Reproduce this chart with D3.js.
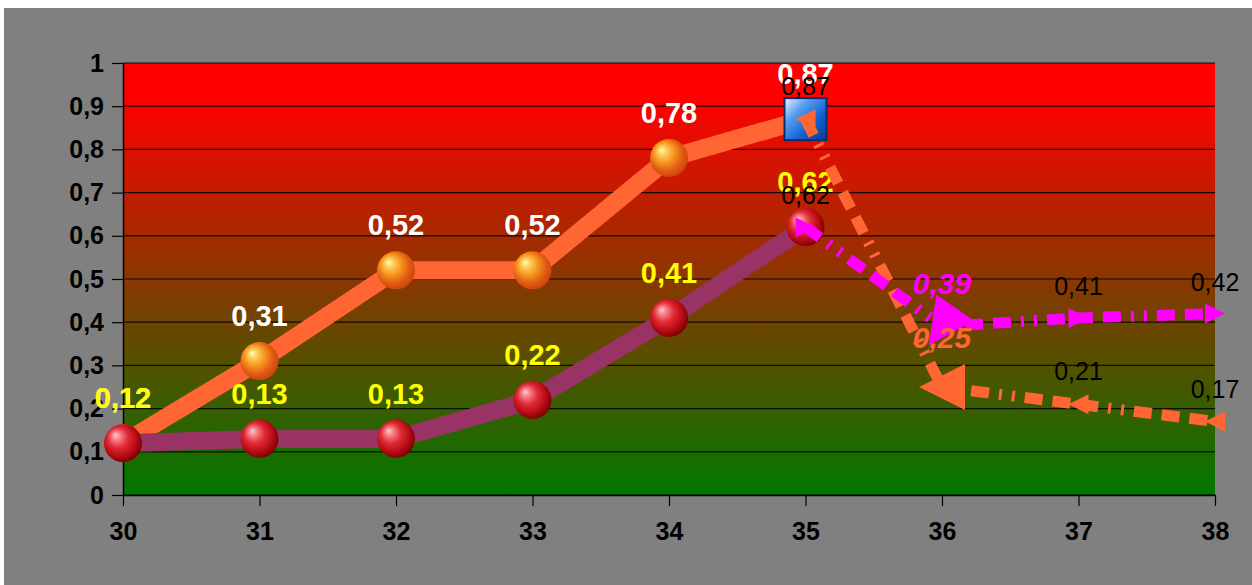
<!DOCTYPE html>
<html>
<head>
<meta charset="utf-8">
<script src="https://cdn.jsdelivr.net/npm/d3@7"></script>
<style>
  html, body { margin: 0; padding: 0; background: #ffffff; }
  svg { display: block; }
  text { font-family: "Liberation Sans", Arial, sans-serif; }
</style>
</head>
<body>
<svg id="chart" width="1252" height="585"></svg>
<script>
// Category axis and value axis ticks
const categories = [30, 31, 32, 33, 34, 35, 36, 37, 38];
const yTicks = [0, 0.1, 0.2, 0.3, 0.4, 0.5, 0.6, 0.7, 0.8, 0.9, 1];

// Measured series (weeks 30-35)
const measuredX = [30, 31, 32, 33, 34, 35];
const upperValues = [0.12, 0.31, 0.52, 0.52, 0.78, 0.87];
const lowerValues = [0.12, 0.13, 0.13, 0.22, 0.41, 0.62];

// Projected series (weeks 35-38)
const projectedX = [35, 36, 37, 38];
const upperProjection = [0.87, 0.25, 0.21, 0.17];
const lowerProjection = [0.62, 0.39, 0.41, 0.42];

const W = 1252, H = 585;
const plot = { left: 123, right: 1215, top: 63, bottom: 495 };

const svg = d3.select("#chart");
const defs = svg.append("defs");

const x = d3.scaleLinear().domain([30, 38]).range([plot.left, plot.right]);
const y = d3.scaleLinear().domain([0, 1]).range([plot.bottom, plot.top]);

const comma = v => d3.format("~g")(+v.toFixed(2)).replace(".", ",");
const comma2 = v => v.toFixed(2).replace(".", ",");

// Outer gray frame
svg.append("rect").attr("x", 4).attr("y", 8).attr("width", W - 4).attr("height", H - 8)
  .attr("fill", "#808080");

// Plot area gradient: red at the top fading to green at the bottom
const bg = defs.append("linearGradient").attr("id", "plotBg")
  .attr("x1", 0).attr("y1", 0).attr("x2", 0).attr("y2", 1);
bg.append("stop").attr("offset", "0%").attr("stop-color", "#ff0000");
bg.append("stop").attr("offset", "8%").attr("stop-color", "#ff0000");
bg.append("stop").attr("offset", "100%").attr("stop-color", "#007800");

svg.append("rect")
  .attr("x", plot.left).attr("y", plot.top)
  .attr("width", plot.right - plot.left).attr("height", plot.bottom - plot.top)
  .attr("fill", "url(#plotBg)");

// Horizontal gridlines
svg.append("g").selectAll("line").data(yTicks).join("line")
  .attr("x1", plot.left).attr("x2", plot.right)
  .attr("y1", d => y(d)).attr("y2", d => y(d))
  .attr("stroke", "#000").attr("stroke-width", 1.2).attr("stroke-opacity", 0.85);

// Axes
const yAxis = svg.append("g").attr("transform", `translate(${plot.left},0)`)
  .call(d3.axisLeft(y).tickValues(yTicks).tickSize(11).tickSizeOuter(0).tickPadding(8)
    .tickFormat(comma));
const xAxis = svg.append("g").attr("transform", `translate(0,${plot.bottom})`)
  .call(d3.axisBottom(x).tickValues(categories).tickSize(11).tickSizeOuter(0).tickPadding(16)
    .tickFormat(d3.format("d")));
[yAxis, xAxis].forEach(g => {
  g.selectAll("path.domain").attr("stroke", "#000").attr("stroke-width", 1.5);
  g.selectAll(".tick line").attr("stroke", "#000").attr("stroke-width", 1.2);
  g.selectAll(".tick text").attr("fill", "#000")
    .style("font-size", "25px").style("font-weight", "bold")
    .style("font-family", '"Liberation Sans", Arial, sans-serif');
});

// Sphere and cube marker fills
function sphereGradient(id, stops) {
  const g = defs.append("radialGradient").attr("id", id)
    .attr("cx", "45%").attr("cy", "45%").attr("r", "60%")
    .attr("fx", "30%").attr("fy", "28%");
  stops.forEach(([o, c]) => g.append("stop").attr("offset", o).attr("stop-color", c));
}
sphereGradient("orangeBall", [["0%", "#ffffc0"], ["18%", "#ffd060"], ["45%", "#f7961f"], ["75%", "#e05a12"], ["100%", "#c8400c"]]);
sphereGradient("redBall", [["0%", "#ffd0d0"], ["18%", "#f88088"], ["45%", "#e02a35"], ["75%", "#b50a14"], ["100%", "#6a0000"]]);

const cube = defs.append("linearGradient").attr("id", "blueCube")
  .attr("x1", 0).attr("y1", 0).attr("x2", 1).attr("y2", 1);
cube.append("stop").attr("offset", "0%").attr("stop-color", "#f0f8ff");
cube.append("stop").attr("offset", "30%").attr("stop-color", "#5aa0f0");
cube.append("stop").attr("offset", "65%").attr("stop-color", "#1060d0");
cube.append("stop").attr("offset", "100%").attr("stop-color", "#0a3a90");

const line = d3.line().x(d => x(d[0])).y(d => y(d[1]));
const zip = (xs, vs) => xs.map((d, i) => [d, vs[i]]);

const upperPts = zip(measuredX, upperValues);
const lowerPts = zip(measuredX, lowerValues);
const upperProjPts = zip(projectedX, upperProjection);
const lowerProjPts = zip(projectedX, lowerProjection);

const ORANGE = "#ff6633", PURPLE = "#993366", MAGENTA = "#ff00ff";

// Measured upper series
svg.append("path").datum(upperPts).attr("d", line)
  .attr("fill", "none").attr("stroke", ORANGE).attr("stroke-width", 18)
  .attr("stroke-linejoin", "round");
svg.append("g").selectAll("g").data(upperPts).join("g")
  .attr("transform", d => `translate(${x(d[0])},${y(d[1])})`)
  .each(function (d, i) {
    const g = d3.select(this);
    if (i === upperPts.length - 1) {
      g.append("rect").attr("x", -21).attr("y", -21).attr("width", 42).attr("height", 42)
        .attr("fill", "url(#blueCube)").attr("stroke", "#0a2d70").attr("stroke-width", 2);
    } else {
      g.append("circle").attr("r", 19).attr("fill", "url(#orangeBall)");
    }
  });

// Measured lower series
svg.append("path").datum(lowerPts).attr("d", line)
  .attr("fill", "none").attr("stroke", PURPLE).attr("stroke-width", 18)
  .attr("stroke-linejoin", "round");
svg.append("g").selectAll("circle").data(lowerPts).join("circle")
  .attr("cx", d => x(d[0])).attr("cy", d => y(d[1])).attr("r", 19)
  .attr("fill", "url(#redBall)");

// Value labels
function valueLabels(pts, color, fmt, dy, size, weight, italic) {
  svg.append("g").selectAll("text").data(pts).join("text")
    .attr("x", d => x(d[0])).attr("y", d => y(d[1]) - dy)
    .attr("text-anchor", "middle")
    .attr("fill", color)
    .style("font-size", size + "px")
    .style("font-weight", weight)
    .style("font-style", italic ? "italic" : "normal")
    .text(d => fmt(d[1]));
}
valueLabels(upperPts, "#ffffff", comma2, 35, 29, "bold", false);
valueLabels(lowerPts, "#ffff00", comma2, 35, 29, "bold", false);

// Projected series: dash-dot-dot lines with arrowheads at each point
const dash = "18,10,3,10,3,10,18,10,18,10";
function arrows(pts, color, baseAngle, bigIndex, bigAngle) {
  svg.append("g").selectAll("path").data(pts).join("path")
    .attr("transform", (d, i) => {
      const a = i === bigIndex ? bigAngle : baseAngle;
      return `translate(${x(d[0])},${y(d[1])}) rotate(${a})`;
    })
    .attr("d", (d, i) => {
      const L = i === bigIndex ? 46 : 20, h = i === bigIndex ? 23 : 10;
      return `M${L / 2},0 L${-L / 2},${-h} L${-L / 2},${h} Z`;
    })
    .attr("fill", color);
}
svg.append("path").datum(upperProjPts).attr("d", line)
  .attr("fill", "none").attr("stroke", ORANGE).attr("stroke-width", 11)
  .attr("stroke-dasharray", dash);
arrows(upperProjPts, ORANGE, 180, 1, 180);

svg.append("path").datum(lowerProjPts).attr("d", line)
  .attr("fill", "none").attr("stroke", MAGENTA).attr("stroke-width", 11)
  .attr("stroke-dasharray", dash);
arrows(lowerProjPts, MAGENTA, 0, 1, 125);

// Projection labels: the week-36 values are emphasised
const endLabels = pts => pts.filter((d, i) => i !== 1);
valueLabels(endLabels(upperProjPts), "#000000", comma2, 24, 25, "normal", false);
valueLabels(endLabels(lowerProjPts), "#000000", comma2, 23, 25, "normal", false);
valueLabels([lowerProjPts[1]], MAGENTA, comma2, 33, 30, "bold", true);
valueLabels([upperProjPts[1]], ORANGE, comma2, 39, 30, "bold", true);
</script>
</body>
</html>
